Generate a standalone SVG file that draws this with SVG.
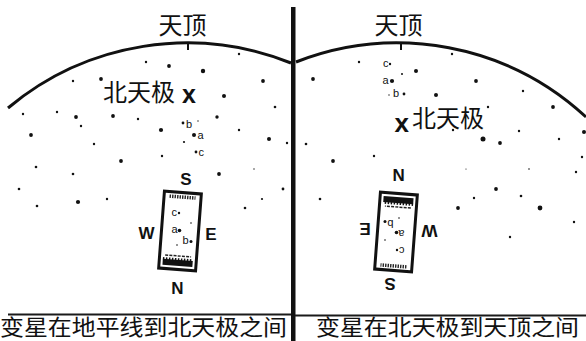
<svg xmlns="http://www.w3.org/2000/svg" xmlns:xlink="http://www.w3.org/1999/xlink" width="586" height="341" viewBox="0 0 586 341">
  <style>
    .cjk { font-family: "Noto Sans CJK SC", "Noto Sans", sans-serif; fill: #111; }
    .pole { font-family: "Liberation Sans", Arial, sans-serif; font-weight: bold; fill: #111; }
    .dir { font-family: "Liberation Sans", Arial, sans-serif; font-weight: bold; font-size: 17px; fill: #111; text-anchor: middle; }
    .lbl { font-family: "Liberation Sans", Arial, sans-serif; font-size: 11px; fill: #111; }
    .sky { fill: none; stroke: #111; stroke-width: 3; }
    .rule { stroke: #1a1a1a; stroke-width: 2.2; }
    .star { fill: #111; }
  </style>
  <defs>
    <!-- hand-held finder chart with compass points, drawn around (0,0) -->
    <g id="chart">
      <g transform="rotate(4.3)">
        <rect x="-18.5" y="-38.5" width="37" height="77" fill="#fff" stroke="#111" stroke-width="3"/>
        <line x1="-13" y1="-34" x2="13" y2="-34" stroke="#222" stroke-width="3.5" stroke-dasharray="1.4 1.1"/>
        <line x1="-13" y1="25" x2="13" y2="25" stroke="#222" stroke-width="1.5" stroke-dasharray="3 1.2"/>
        <rect x="-15" y="29" width="30" height="6" fill="#111"/>
        <line x1="-15" y1="28.5" x2="15" y2="28.5" stroke="#111" stroke-width="2.5" stroke-dasharray="1.5 1.5"/>
      </g>
      <text class="lbl" x="-8.5" y="-15">c</text>
      <circle class="star" cx="-1" cy="-18" r="1.2"/>
      <text class="lbl" x="-8.5" y="2">a</text>
      <circle class="star" cx="-0.5" cy="-0.5" r="1.8"/>
      <text class="lbl" x="2.5" y="12.5">b</text>
      <circle class="star" cx="11" cy="10.5" r="1.5"/>
      <circle class="star" cx="11" cy="-8" r="0.8"/>
      <circle class="star" cx="-3" cy="14" r="0.8"/>
      <text class="dir" x="6" y="-46">S</text>
      <text class="dir" x="-33.5" y="7.5">W</text>
      <text class="dir" x="31" y="9">E</text>
      <text class="dir" x="-2.5" y="63">N</text>
    </g>
  </defs>

  <!-- frame: divider and ground lines -->
  <g id="frame">
    <rect x="291" y="7" width="4.5" height="334" fill="#111"/>
    <line class="rule" x1="8" y1="314.5" x2="291" y2="314.5"/>
    <line class="rule" x1="295" y1="315.5" x2="586" y2="315.5"/>
  </g>

  <!-- left: variable between horizon and north celestial pole -->
  <g id="left-panel">
    <path class="sky" d="M 8 108 A 279 279 0 0 1 291 63"/>
    <rect x="187" y="42" width="2" height="8" fill="#111"/>
    <text class="cjk" x="182.5" y="34" font-size="24" text-anchor="middle">天顶</text>
    <text class="cjk" x="103" y="101" font-size="24">北天极</text>
    <text class="pole" x="182" y="103" font-size="25">x</text>
    <g id="left-stars">
      <circle class="star" cx="146" cy="62" r="1.2"/>
      <circle class="star" cx="169" cy="66" r="1.9"/>
      <circle class="star" cx="203" cy="71" r="2.2"/>
      <circle class="star" cx="239" cy="54" r="1.2"/>
      <circle class="star" cx="73" cy="81" r="1.2"/>
      <circle class="star" cx="101" cy="79" r="1.9"/>
      <circle class="star" cx="263" cy="81" r="1.9"/>
      <circle class="star" cx="224" cy="96" r="2"/>
      <circle class="star" cx="275" cy="107" r="1.3"/>
      <circle class="star" cx="23" cy="114" r="1.2"/>
      <circle class="star" cx="57" cy="112" r="1.2"/>
      <circle class="star" cx="76" cy="117" r="1.9"/>
      <circle class="star" cx="113" cy="116" r="1.9"/>
      <circle class="star" cx="138" cy="119" r="1.2"/>
      <circle class="star" cx="217" cy="117" r="1.7"/>
      <circle class="star" cx="81" cy="126" r="1.2"/>
      <circle class="star" cx="161" cy="130" r="2.1"/>
      <circle class="star" cx="183" cy="123" r="1.4"/>
      <circle class="star" cx="198" cy="121" r="0.7"/>
      <circle class="star" cx="194" cy="135" r="2"/>
      <circle class="star" cx="184" cy="142" r="1.1"/>
      <circle class="star" cx="196" cy="152" r="1.4"/>
      <circle class="star" cx="239" cy="130" r="1.2"/>
      <circle class="star" cx="269" cy="139" r="2"/>
      <circle class="star" cx="287" cy="143" r="1.2"/>
      <circle class="star" cx="31" cy="135" r="1.9"/>
      <circle class="star" cx="94" cy="144" r="1.2"/>
      <circle class="star" cx="162" cy="156" r="1.2"/>
      <circle class="star" cx="121" cy="161" r="1.9"/>
      <circle class="star" cx="36" cy="167" r="1.3"/>
      <circle class="star" cx="73" cy="174" r="1.3"/>
      <circle class="star" cx="219" cy="174" r="1.9"/>
      <circle class="star" cx="254" cy="169" r="0.7"/>
      <circle class="star" cx="19" cy="189" r="1.3"/>
      <circle class="star" cx="78" cy="202" r="2.1"/>
      <circle class="star" cx="107" cy="199" r="1.2"/>
      <circle class="star" cx="37" cy="206" r="1.3"/>
      <circle class="star" cx="245" cy="208" r="1.3"/>
      <circle class="star" cx="262" cy="199" r="1.1"/>
      <circle class="star" cx="283" cy="189" r="1.4"/>
      <text class="lbl" x="186" y="128">b</text>
      <text class="lbl" x="197.5" y="138.5">a</text>
      <text class="lbl" x="198.5" y="155.5">c</text>
    </g>
    <use xlink:href="#chart" href="#chart" transform="translate(180 231)"/>
    <text class="cjk" x="0" y="334.5" font-size="22" textLength="287" lengthAdjust="spacingAndGlyphs">变星在地平线到北天极之间</text>
  </g>

  <!-- right: variable between north celestial pole and zenith -->
  <g id="right-panel">
    <path class="sky" d="M 296 62 A 278 278 0 0 1 586 117"/>
    <rect x="400" y="42" width="2" height="8" fill="#111"/>
    <text class="cjk" x="398.5" y="34" font-size="24" text-anchor="middle">天顶</text>
    <text class="pole" x="394.5" y="132" font-size="26">x</text>
    <text class="cjk" x="412" y="127" font-size="24">北天极</text>
    <g id="right-stars">
      <circle class="star" cx="359" cy="62" r="1.2"/>
      <circle class="star" cx="402" cy="74" r="1"/>
      <circle class="star" cx="416" cy="71" r="2"/>
      <circle class="star" cx="313" cy="79" r="1.9"/>
      <circle class="star" cx="476" cy="81" r="1.9"/>
      <circle class="star" cx="452" cy="54" r="1.2"/>
      <circle class="star" cx="390" cy="64" r="1.2"/>
      <circle class="star" cx="392" cy="81" r="2.1"/>
      <circle class="star" cx="404" cy="94" r="1.4"/>
      <circle class="star" cx="389" cy="95" r="0.7"/>
      <circle class="star" cx="436" cy="95" r="2"/>
      <circle class="star" cx="523" cy="91" r="1.2"/>
      <circle class="star" cx="488" cy="107" r="1.2"/>
      <circle class="star" cx="553" cy="107" r="1.9"/>
      <circle class="star" cx="306" cy="144" r="1.3"/>
      <circle class="star" cx="333" cy="161" r="1.9"/>
      <circle class="star" cx="374" cy="156" r="1.2"/>
      <circle class="star" cx="453" cy="130" r="1.2"/>
      <circle class="star" cx="483" cy="139" r="2.5"/>
      <circle class="star" cx="500" cy="143" r="1.9"/>
      <circle class="star" cx="519" cy="131" r="1.2"/>
      <circle class="star" cx="559" cy="139" r="1.2"/>
      <circle class="star" cx="584" cy="132" r="2"/>
      <circle class="star" cx="582" cy="157" r="1.2"/>
      <circle class="star" cx="576" cy="172" r="1.2"/>
      <circle class="star" cx="466" cy="169" r="0.6"/>
      <circle class="star" cx="529" cy="169" r="0.8"/>
      <circle class="star" cx="320" cy="199" r="1.3"/>
      <circle class="star" cx="474" cy="198" r="1.2"/>
      <circle class="star" cx="496" cy="189" r="1.9"/>
      <circle class="star" cx="521" cy="196" r="1.3"/>
      <circle class="star" cx="540" cy="208" r="2.4"/>
      <circle class="star" cx="458" cy="208" r="1.9"/>
      <circle class="star" cx="574" cy="222" r="1.2"/>
      <circle class="star" cx="510" cy="237" r="1.2"/>
      <text class="lbl" x="383" y="67">c</text>
      <text class="lbl" x="382.5" y="84">a</text>
      <text class="lbl" x="393" y="97">b</text>
    </g>
    <use xlink:href="#chart" href="#chart" transform="translate(396 232) rotate(180)"/>
    <text class="cjk" x="316" y="334.5" font-size="22" textLength="263" lengthAdjust="spacingAndGlyphs">变星在北天极到天顶之间</text>
  </g>
</svg>
